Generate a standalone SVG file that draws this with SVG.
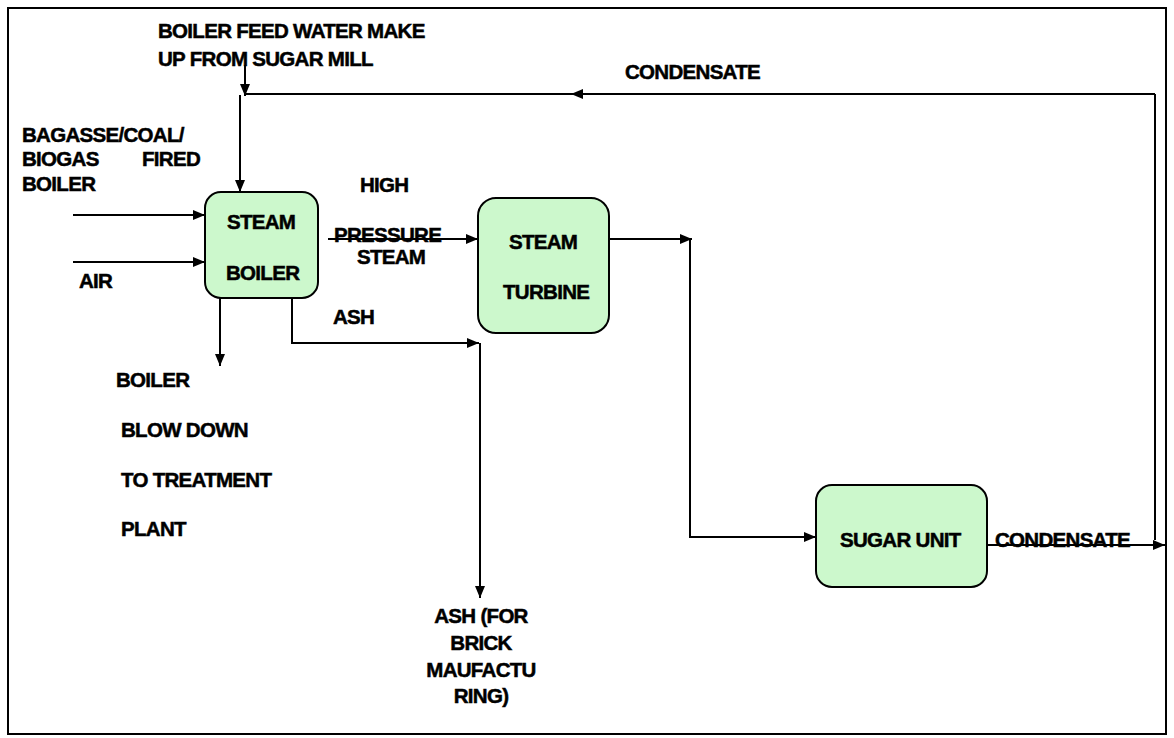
<svg xmlns="http://www.w3.org/2000/svg" width="1174" height="738" viewBox="0 0 1174 738">
<defs>
<marker id="arr" markerWidth="12" markerHeight="10" refX="12" refY="5" orient="auto" markerUnits="userSpaceOnUse">
<path d="M0,0 L12,5 L0,10 z" fill="#000"/>
</marker>
<style>
.t{font-family:"Liberation Sans",Arial,sans-serif;font-weight:bold;font-size:20.5px;fill:#000;stroke:#000;stroke-width:0.5px;letter-spacing:-0.7px}
.box{fill:#ccf8cc;stroke:#000;stroke-width:2}
.ln{fill:none;stroke:#000;stroke-width:2}
</style>
</defs>
<rect x="0" y="0" width="1174" height="738" fill="#fff"/>
<rect x="8" y="8" width="1158" height="726" fill="none" stroke="#000" stroke-width="2"/>

<g id="connectors">
<path class="ln" d="M245,65 V96" marker-end="url(#arr)"/>
<path class="ln" d="M240,95 V192" marker-end="url(#arr)"/>
<path class="ln" d="M1155,94 H571" marker-end="url(#arr)"/>
<path class="ln" d="M572,94 H245"/>
<path class="ln" d="M1155,94 V540"/>
<path class="ln" d="M987,545 H1165" marker-end="url(#arr)"/>
<path class="ln" d="M73,215 H205" marker-end="url(#arr)"/>
<path class="ln" d="M73,262 H205" marker-end="url(#arr)"/>
<path class="ln" d="M328,239 H478" marker-end="url(#arr)"/>
<path class="ln" d="M292,280 V343 H479" marker-end="url(#arr)"/>
<path class="ln" d="M480,343 V598" marker-end="url(#arr)"/>
<path class="ln" d="M220,298 V366" marker-end="url(#arr)"/>
<path class="ln" d="M609,239 H692" marker-end="url(#arr)"/>
<path class="ln" d="M690,239 V537 H816" marker-end="url(#arr)"/>
</g>

<g id="steam-boiler">
<rect class="box" x="205" y="192" width="113" height="106" rx="16"/>
<text class="t" x="227" y="229">STEAM</text>
<text class="t" x="226" y="280">BOILER</text>
</g>

<g id="steam-turbine">
<rect class="box" x="478" y="198" width="131" height="135" rx="18"/>
<text class="t" x="509" y="249">STEAM</text>
<text class="t" x="503" y="299">TURBINE</text>
</g>

<g id="sugar-unit">
<rect class="box" x="816" y="485" width="171" height="102" rx="16"/>
<text class="t" x="840" y="547">SUGAR UNIT</text>
</g>

<g id="labels">
<text class="t" x="158" y="38">BOILER FEED WATER MAKE</text>
<text class="t" x="158" y="66">UP FROM SUGAR MILL</text>
<text class="t" x="625" y="79">CONDENSATE</text>
<text class="t" x="22" y="142">BAGASSE/COAL/</text>
<text class="t" x="22" y="166">BIOGAS</text>
<text class="t" x="142" y="166">FIRED</text>
<text class="t" x="22" y="191">BOILER</text>
<text class="t" x="79" y="288">AIR</text>
<text class="t" x="360" y="192">HIGH</text>
<text class="t" x="334" y="242">PRESSURE</text>
<text class="t" x="357" y="264">STEAM</text>
<text class="t" x="333" y="324">ASH</text>
<text class="t" x="116" y="387">BOILER</text>
<text class="t" x="121" y="437">BLOW DOWN</text>
<text class="t" x="121" y="487">TO TREATMENT</text>
<text class="t" x="121" y="536">PLANT</text>
<text class="t" x="995" y="547">CONDENSATE</text>
<text class="t" x="481" y="623" text-anchor="middle">ASH (FOR</text>
<text class="t" x="481" y="650" text-anchor="middle">BRICK</text>
<text class="t" x="481" y="677" text-anchor="middle">MAUFACTU</text>
<text class="t" x="481" y="703" text-anchor="middle">RING)</text>
</g>
</svg>
